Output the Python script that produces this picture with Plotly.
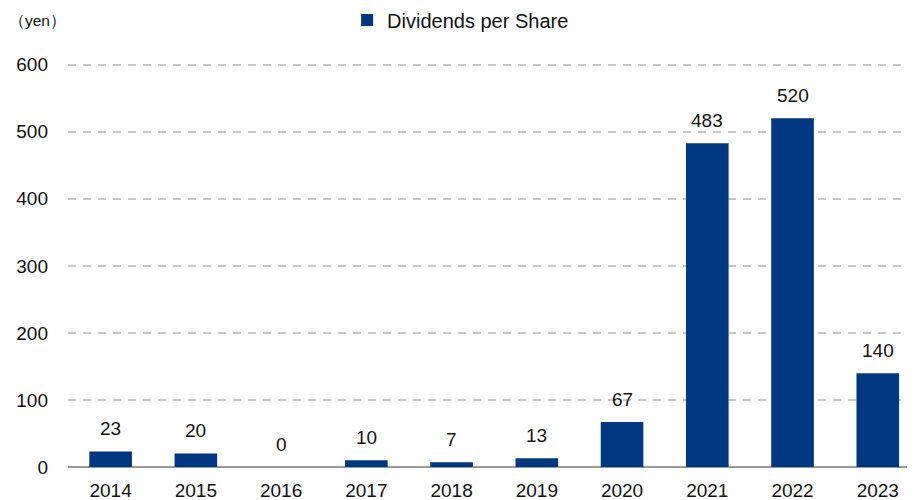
import plotly.graph_objects as go

years = ["2014", "2015", "2016", "2017", "2018", "2019", "2020", "2021", "2022", "2023"]
dividends = [23, 20, 0, 10, 7, 13, 67, 483, 520, 140]
y_ticks = [0, 100, 200, 300, 400, 500, 600]
series_name = "Dividends per Share"
unit_label = "（yen）"

BAR_COLOR = "#003781"
FONT = "Liberation Sans, Arial, sans-serif"
FS = 19

fig = go.Figure()
fig.add_trace(go.Bar(
    x=list(range(len(years))),
    y=dividends,
    name=series_name,
    marker=dict(color=BAR_COLOR, line=dict(width=0)),
    width=0.5,
))

for i, v in enumerate(dividends):
    fig.add_annotation(
        x=i, y=v, text=str(v), showarrow=False,
        yanchor="middle", yshift=23,
        font=dict(size=FS, color="#111111", family=FONT),
    )

fig.add_annotation(
    x=0, xref="paper", xanchor="left", xshift=-60, borderpad=0,
    y=1.0929, yref="paper", yanchor="middle",
    text=unit_label, showarrow=False,
    font=dict(size=15.5, color="#111111", family=FONT),
)

# page body adds an 8px offset, so the figure is sized to fit the window
fig.update_layout(
    width=907, height=492,
    margin=dict(l=60, r=5, t=50.3, b=32.5, autoexpand=False),
    paper_bgcolor="white", plot_bgcolor="white",
    font=dict(family=FONT, size=FS, color="#111111"),
    showlegend=True,
    legend=dict(
        orientation="h", x=0.3315, xanchor="left",
        y=1.0929, yref="paper", yanchor="middle",
        font=dict(size=20),
        itemwidth=30,
        bgcolor="rgba(0,0,0,0)",
    ),
)

fig.update_xaxes(
    tickmode="array", tickvals=list(range(len(years))), ticktext=years,
    range=[-0.5, 9.378],
    showgrid=False, zeroline=False,
    showline=False, ticks="",
    ticklabelstandoff=10,
    tickfont=dict(size=FS),
    automargin=False,
)
fig.update_yaxes(
    range=[0, 610],
    tickmode="array", tickvals=y_ticks,
    showgrid=True, gridcolor="#c8c8c8", griddash="8px,7px", gridwidth=1.5,
    zeroline=True, zerolinecolor="#9a9a9a", zerolinewidth=2,
    showline=False, ticks="",
    ticklabelstandoff=19,
    tickfont=dict(size=FS),
    automargin=False,
)

fig.write_html("out.html")
